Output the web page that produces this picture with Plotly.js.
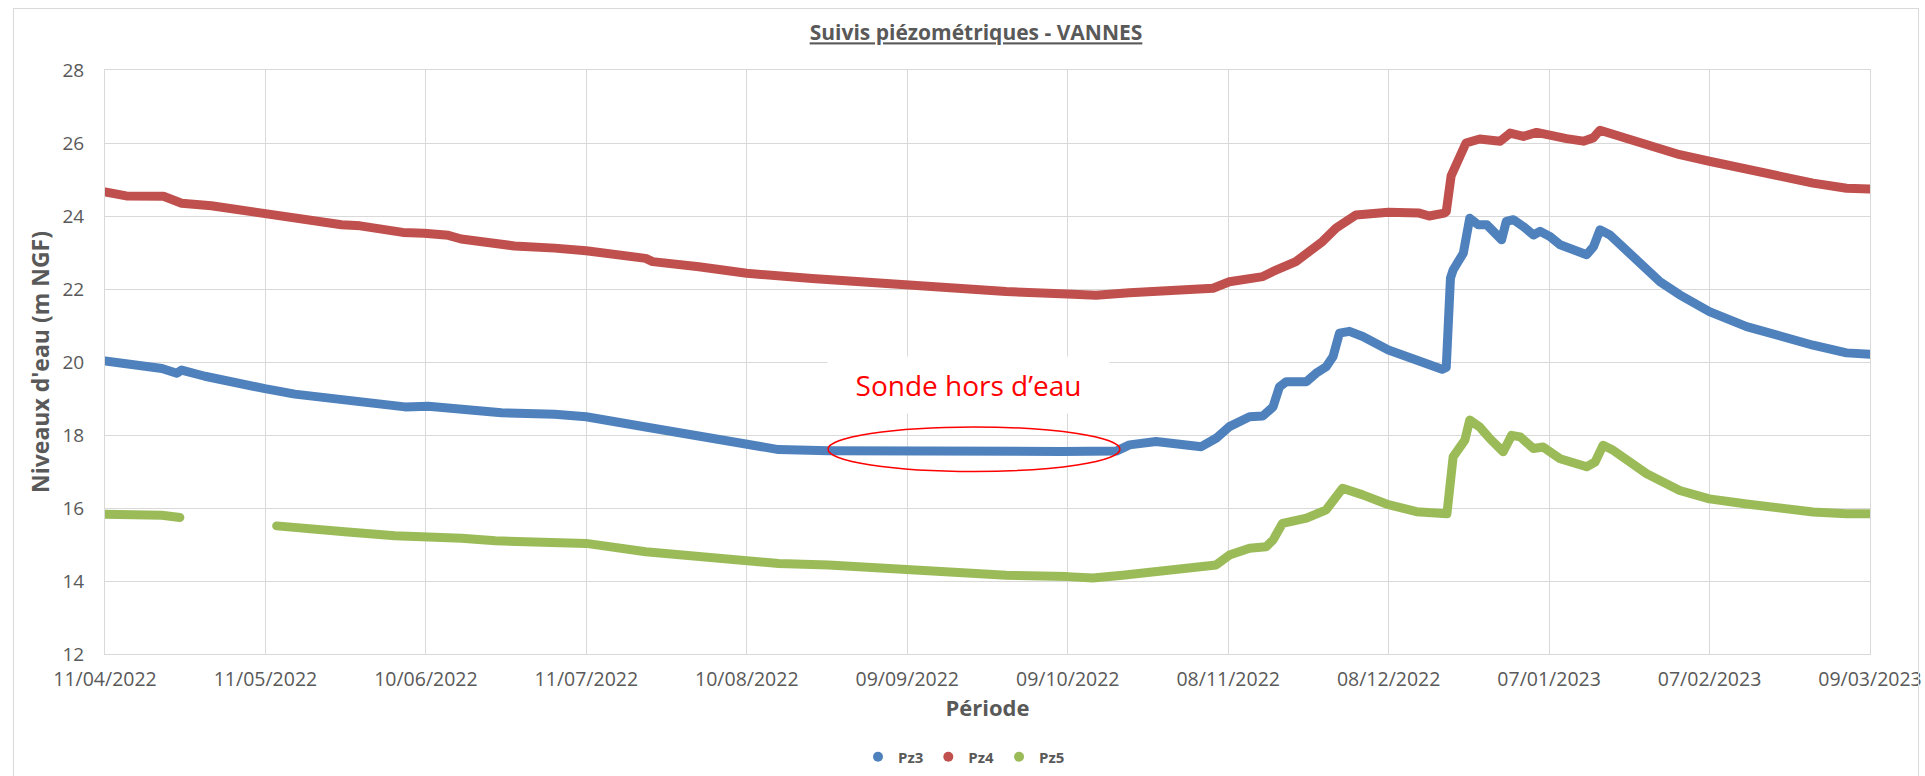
<!DOCTYPE html>
<html>
<head>
<meta charset="utf-8">
<script src="https://cdn.plot.ly/plotly-3.0.1.min.js"></script>
<style>
  html, body { margin: 0; padding: 0; background: #ffffff; }
  #wrap { position: relative; width: 1925px; height: 776px; overflow: hidden; }
  #chart { position: absolute; left: 0; top: 0; width: 1925px; height: 776px; }
  #frame { position: absolute; left: 13px; top: 8px; width: 1904px; height: 800px; border: 1px solid #d9d9d9; pointer-events: none; }
  .scatterlayer .js-line { stroke-linejoin: round !important; stroke-linecap: round !important; }
</style>
</head>
<body>
<div id="wrap"><div id="chart"></div><div id="frame"></div></div>
<script>
// ---- Data ----
const pz3Dates = ["2022-04-11","2022-04-15 10:00","2022-04-21 17:00","2022-04-24 12:00","2022-04-25 10:00","2022-04-29 19:00",
  "2022-05-05 12:00","2022-05-11 02:00","2022-05-16 17:00","2022-05-25 12:00","2022-06-02","2022-06-06 10:00","2022-06-10 19:00",
  "2022-06-17 02:00","2022-06-24 14:00","2022-07-04 14:00","2022-07-10 12:00","2022-07-21 17:00","2022-07-31 02:00","2022-08-09 17:00",
  "2022-08-15 17:00","2022-08-25 02:00","2022-09-08","2022-09-23","2022-10-08","2022-10-18 05:00","2022-10-20 17:00","2022-10-25 17:00",
  "2022-10-29 12:00","2022-11-03 05:00","2022-11-06","2022-11-08 12:00","2022-11-12 07:00","2022-11-14 19:00","2022-11-16 17:00",
  "2022-11-17 22:00","2022-11-19 05:00","2022-11-23","2022-11-24 19:00","2022-11-26 17:00","2022-11-28","2022-11-29 05:00",
  "2022-12-01 02:00","2022-12-03 14:00","2022-12-08 10:00","2022-12-13","2022-12-18 12:00","2022-12-19 07:00","2022-12-20 02:00",
  "2022-12-20 14:00","2022-12-22 12:00","2022-12-23 17:00","2022-12-25 07:00","2022-12-26 22:00","2022-12-29 17:00","2022-12-30 14:00",
  "2022-12-31 22:00","2023-01-02 19:00","2023-01-04 17:00","2023-01-05 22:00","2023-01-07 19:00","2023-01-09 17:00","2023-01-12 05:00",
  "2023-01-14 17:00","2023-01-16","2023-01-17 05:00","2023-01-19 02:00","2023-01-22 19:00","2023-01-28 12:00","2023-02-01 05:00",
  "2023-02-06 19:00","2023-02-13 19:00","2023-02-20","2023-02-26 07:00","2023-03-04 14:00","2023-03-09"];
const pz3Values = [20.03,19.94,19.82,19.69,19.78,19.61,
  19.41,19.27,19.12,18.97,18.86,18.77,18.79,
  18.70,18.61,18.57,18.50,18.22,18.00,17.77,
  17.60,17.57,17.55,17.56,17.55,17.56,17.73,17.82,
  17.77,17.68,17.91,18.23,18.50,18.52,18.77,
  19.32,19.46,19.46,19.69,19.87,20.15,20.79,
  20.84,20.70,20.33,20.06,19.80,19.85,22.30,
  22.52,22.98,23.94,23.76,23.76,23.35,23.85,
  23.90,23.71,23.48,23.58,23.44,23.21,23.07,
  22.94,23.16,23.62,23.48,22.98,22.20,21.84,
  21.38,20.97,20.69,20.46,20.25,20.21];

const pz4Dates = ["2022-04-11","2022-04-13","2022-04-15","2022-04-22","2022-04-23 12:00","2022-04-25 10:00","2022-05-01",
  "2022-05-06","2022-05-10 12:00","2022-05-14","2022-05-19","2022-05-25 12:00","2022-05-29","2022-06-06","2022-06-10",
  "2022-06-14 14:00","2022-06-17","2022-06-21","2022-06-27","2022-07-04 14:00","2022-07-10 12:00","2022-07-21 17:00",
  "2022-07-23","2022-07-31 17:00","2022-08-09 17:00","2022-08-22","2022-09-09","2022-09-27 12:00","2022-10-09",
  "2022-10-14 10:00","2022-10-20 17:00","2022-11-03 12:00","2022-11-05 10:00","2022-11-08 12:00","2022-11-14 19:00",
  "2022-11-16 17:00","2022-11-21","2022-11-26","2022-11-28 14:00","2022-12-02 07:00","2022-12-08 10:00","2022-12-14 05:00",
  "2022-12-16 02:00","2022-12-18 22:00","2022-12-19 07:00","2022-12-20 05:00","2022-12-21 05:00","2022-12-23",
  "2022-12-25 14:00","2022-12-29 10:00","2022-12-31 07:00","2023-01-02 19:00","2023-01-05 07:00","2023-01-08 10:00",
  "2023-01-10 22:00","2023-01-14 02:00","2023-01-15 22:00","2023-01-17 05:00","2023-01-19 17:00","2023-01-26",
  "2023-02-01 05:00","2023-02-06 19:00","2023-02-13 19:00","2023-02-20","2023-02-26 07:00","2023-03-04 14:00","2023-03-09"];
const pz4Values = [24.66,24.60,24.55,24.54,24.46,24.35,24.28,
  24.17,24.08,24.00,23.90,23.76,23.73,23.55,23.53,
  23.47,23.37,23.30,23.18,23.12,23.05,22.84,
  22.75,22.61,22.43,22.29,22.10,21.93,21.86,
  21.83,21.90,21.97,22.02,22.20,22.34,
  22.48,22.75,23.30,23.67,24.03,24.10,24.08,
  24.00,24.08,24.12,25.10,25.41,26.00,
  26.11,26.05,26.27,26.18,26.29,26.23,
  26.12,26.05,26.14,26.35,26.23,25.95,
  25.68,25.50,25.27,25.10,24.90,24.76,24.74];

const pz5Dates = ["2022-04-11","2022-04-15 10:00","2022-04-21 17:00","2022-04-25 02:00","2022-05-01",
  "2022-05-13 07:00","2022-05-19 22:00","2022-05-26 02:00","2022-06-04 12:00","2022-06-10 19:00","2022-06-17 02:00",
  "2022-06-23 10:00","2022-07-04 14:00","2022-07-10 12:00","2022-07-21 17:00","2022-08-03 05:00","2022-08-15 17:00",
  "2022-08-25 02:00","2022-09-08 22:00","2022-09-27 12:00","2022-10-09 02:00","2022-10-13 19:00","2022-10-19 10:00",
  "2022-10-27","2022-11-04 02:00","2022-11-06","2022-11-08 12:00","2022-11-12 07:00","2022-11-15 10:00","2022-11-16 17:00",
  "2022-11-18 12:00","2022-11-23","2022-11-26 17:00","2022-11-28","2022-11-29 19:00","2022-12-03 14:00","2022-12-08 10:00",
  "2022-12-13 17:00","2022-12-18 17:00","2022-12-19 10:00","2022-12-20 14:00","2022-12-21 22:00","2022-12-22 19:00",
  "2022-12-23 17:00","2022-12-25 14:00","2022-12-27 12:00","2022-12-30","2022-12-31 14:00","2023-01-02 05:00",
  "2023-01-04 17:00","2023-01-06 12:00","2023-01-09 17:00","2023-01-14 17:00","2023-01-16 07:00","2023-01-17 19:00",
  "2023-01-19 17:00","2023-01-26","2023-02-01 05:00","2023-02-06 19:00","2023-02-13 19:00","2023-02-20",
  "2023-02-26 07:00","2023-03-04 14:00","2023-03-09"];
const pz5Values = [15.83,15.84,15.80,15.74,null,
  15.51,15.41,15.35,15.24,15.23,15.17,
  15.10,15.06,15.03,14.80,14.62,14.48,
  14.44,14.30,14.16,14.12,14.08,14.16,
  14.28,14.35,14.44,14.71,14.90,14.94,15.12,
  15.58,15.72,15.95,16.18,16.54,16.36,16.09,
  15.90,15.81,15.84,17.40,17.67,17.86,
  18.41,18.22,17.90,17.54,17.99,17.95,
  17.63,17.67,17.35,17.13,17.26,17.72,
  17.58,16.94,16.48,16.25,16.11,16.00,
  15.89,15.84,15.84];

const seriesNames = ["Pz3","Pz4","Pz5"];
const xTickLabels = ["11/04/2022","11/05/2022","10/06/2022","11/07/2022","10/08/2022","09/09/2022",
  "09/10/2022","08/11/2022","08/12/2022","07/01/2023","07/02/2023","09/03/2023"];
const axisStart = "2022-04-11";
const axisEnd = "2023-03-09";
const yTickValues = [12,14,16,18,20,22,24,26,28];

// ---- Build ----
const colors = ["#4F81BD","#C0504D","#9BBB59"];
const toMs = s => new Date(s + "T00:00:00Z").getTime();
const t0 = toMs(axisStart), t1 = toMs(axisEnd);
const nInt = xTickLabels.length - 1;
const tickVals = xTickLabels.map((_, k) => new Date(t0 + k * (t1 - t0) / nInt).toISOString());

const xs = [pz3Dates, pz4Dates, pz5Dates];
const ys = [pz3Values, pz4Values, pz5Values];
const traces = [];
for (let i = 0; i < 3; i++) {
  traces.push({
    type: "scatter", mode: "lines", x: xs[i], y: ys[i], name: seriesNames[i],
    line: { color: colors[i], width: 9 }, showlegend: false, connectgaps: false, hoverinfo: "skip"
  });
}
for (let i = 0; i < 3; i++) {
  traces.push({
    type: "scatter", mode: "markers", x: [null], y: [null], name: seriesNames[i],
    marker: { color: colors[i], size: 10, symbol: "circle" }, showlegend: true, hoverinfo: "skip"
  });
}

const grey = "#595959";
const FF = "Open Sans, sans-serif";
const layout = {
  width: 1925, height: 776,
  margin: { l: 105, r: 55, t: 70, b: 122 },
  paper_bgcolor: "rgba(0,0,0,0)", plot_bgcolor: "#ffffff",
  font: { family: FF, color: grey },
  title: {
    text: "<b>Suivis piézométriques - VANNES</b>",
    font: { size: 21, color: grey, family: FF, lineposition: "under" },
    xref: "container", x: 976 / 1925, xanchor: "center",
    yref: "container", y: 1 - 33 / 776, yanchor: "middle"
  },
  xaxis: {
    type: "date", range: [axisStart, axisEnd],
    tickmode: "array", tickvals: tickVals, ticktext: xTickLabels,
    showgrid: true, gridcolor: "#d9d9d9", gridwidth: 1,
    showline: true, linecolor: "#d9d9d9", mirror: true, zeroline: false,
    ticks: "", ticklabelstandoff: 8,
    tickfont: { size: 19.5, color: grey, family: FF },
    title: { text: "<b>Période</b>", font: { size: 22, color: grey, family: FF }, standoff: 8 }
  },
  yaxis: {
    range: [12, 28], tickmode: "array", tickvals: yTickValues,
    showgrid: true, gridcolor: "#d9d9d9", gridwidth: 1,
    showline: true, linecolor: "#d9d9d9", mirror: true, zeroline: false,
    ticks: "", ticklabelstandoff: 16,
    tickfont: { size: 19, color: grey, family: FF },
    title: { text: "<b>Niveaux d'eau (m NGF)</b>", font: { size: 23, color: grey, family: FF }, standoff: 6 }
  },
  legend: {
    orientation: "h", xref: "paper", x: (964 - 105) / 1765, xanchor: "center",
    yref: "container", y: 1 - 757 / 776, yanchor: "middle",
    font: { size: 15, color: grey, family: FF, weight: "bold" },
    itemwidth: 30, tracegroupgap: 0
  },
  shapes: [{
    type: "circle", xref: "x", yref: "y",
    x0: "2022-08-25", x1: "2022-10-18 22:00", y0: 17.0, y1: 18.22,
    line: { color: "#FF0000", width: 1.5 }, fillcolor: "rgba(0,0,0,0)", layer: "above"
  }],
  annotations: [{
    xref: "x", yref: "y", x: "2022-09-20 12:00", y: 19.38,
    text: "Sonde hors d’eau", showarrow: false,
    font: { size: 28, color: "#FF0000", family: FF },
    bgcolor: "#ffffff", width: 279, height: 54, align: "center", valign: "middle"
  }]
};

Plotly.newPlot("chart", traces, layout, { staticPlot: true, displayModeBar: false });
</script>
</body>
</html>
